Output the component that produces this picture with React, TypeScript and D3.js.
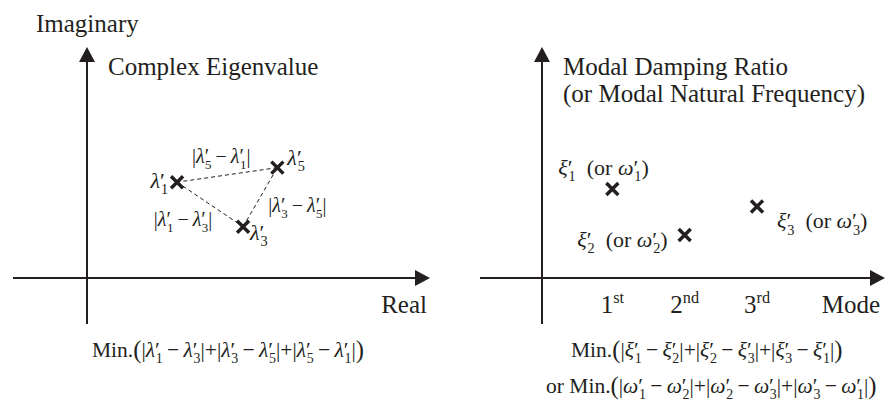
import React from "react";
import * as d3 from "d3";

// eigenvalues of the three chosen modes (arbitrary units)
const eigenIds = ["1", "3", "5"];
const eigenRe = [1.05, 1.82, 2.22];
const eigenIm = [1.12, 0.6, 1.29];

// modal damping ratio (or natural frequency) per mode
const modeNums = [1, 2, 3];
const modeSuffix = ["st", "nd", "rd"];
const modeIds = ["1", "2", "3"];
const dampingRatio = [0.385, 0.186, 0.31];

// pairs that get summed in the objective
const pairs = [
  [0, 1],
  [1, 2],
  [2, 0],
];

const W = 895;
const H = 401;
const INK = "#231f20";
const FONT = '"Liberation Serif", "Times New Roman", serif';
const THIN = "\u2009";

type Tok = { t: string; it?: boolean; sub?: boolean; sup?: boolean; dx?: number; big?: boolean };

const sym = (g: string, i: string): Tok[] => [
  { t: g, it: true },
  { t: "′" },
  { t: i, sub: true, dx: -4 },
];

const diff = (g: string, a: string, b: string): Tok[] => [
  { t: "|" },
  ...sym(g, a),
  { t: THIN + "−" + THIN },
  ...sym(g, b),
  { t: "|" },
];

const sumOf = (g: string, ids: string[]): Tok[] => {
  const out: Tok[] = [{ t: "Min." }, { t: "(", big: true }];
  pairs.forEach(([a, b], k) => {
    if (k > 0) out.push({ t: "+" });
    out.push(...diff(g, ids[a], ids[b]));
  });
  out.push({ t: ")", big: true });
  return out;
};

function MathText({ toks, x, y, size, anchor = "start" }: { toks: Tok[]; x: number; y: number; size: number; anchor?: string }) {
  let off = 0;
  const spans = toks.map((k, j) => {
    const target = k.sub ? size * 0.28 : k.sup ? -size * 0.4 : k.big ? size * 0.05 : 0;
    const dy = target - off;
    off = target;
    return (
      <tspan
        key={j}
        dy={dy !== 0 ? dy : undefined}
        dx={k.dx}
        fontStyle={k.it ? "italic" : undefined}
        fontSize={k.sub || k.sup ? size * 0.65 : k.big ? size * 1.15 : undefined}
      >
        {k.t}
      </tspan>
    );
  });
  return (
    <text x={x} y={y} fontSize={size} textAnchor={anchor} style={{ whiteSpace: "pre" }}>
      {spans}
    </text>
  );
}

function Cross({ x, y }: { x: number; y: number }) {
  const r = 6;
  return (
    <path
      d={`M${x - r},${y - r}L${x + r},${y + r}M${x - r},${y + r}L${x + r},${y - r}`}
      stroke={INK}
      strokeWidth={3.5}
    />
  );
}

function Axes({ ox, oy, x0, x1, y1, yBottom }: { ox: number; oy: number; x0: number; x1: number; y1: number; yBottom: number }) {
  const hl = 15;
  const hw = 8;
  return (
    <g>
      <line x1={x0} y1={oy} x2={x1 - hl} y2={oy} stroke={INK} strokeWidth={2} />
      <path d={`M${x1},${oy}L${x1 - hl},${oy - hw}L${x1 - hl},${oy + hw}Z`} fill={INK} />
      <line x1={ox} y1={yBottom} x2={ox} y2={y1 + hl} stroke={INK} strokeWidth={2} />
      <path d={`M${ox},${y1}L${ox - hw},${y1 + hl}L${ox + hw},${y1 + hl}Z`} fill={INK} />
    </g>
  );
}

// where the |a - b| labels sit relative to the midpoint of each dashed line
const pairLabelPos = [
  { dx: -27, dy: 22, anchor: "middle" },
  { dx: 8, dy: 15, anchor: "start" },
  { dx: -6, dy: -12, anchor: "middle" },
];

export default function App() {
  const xL = d3.scaleLinear().domain([0, 4]).range([87, 430]);
  const yL = d3.scaleLinear().domain([0, 2.7]).range([278, 47]);
  const xR = d3.scaleLinear().domain([0, 3]).range([540, 757]);
  const yR = d3.scaleLinear().domain([0, 1]).range([278, 47]);

  const eig = eigenIds.map((id, i) => ({ id, x: xL(eigenRe[i]), y: yL(eigenIm[i]) }));
  const modes = modeNums.map((m, i) => ({ m, id: modeIds[i], x: xR(m), y: yR(dampingRatio[i]) }));

  // label offsets for each eigenvalue / mode point
  const eigLabel = [
    { dx: -9, dy: 6, anchor: "end" },
    { dx: 7, dy: 13, anchor: "start" },
    { dx: 10, dy: -3, anchor: "start" },
  ];
  const modeLabel = [
    { dx: -54, dy: -14, anchor: "start" },
    { dx: -17, dy: 12, anchor: "end" },
    { dx: 20, dy: 22, anchor: "start" },
  ];

  const formulaSize = 21.5;

  return (
    <svg
      width={W}
      height={H}
      style={{ position: "absolute", left: 0, top: 0, background: "#fff" }}
      fontFamily={FONT}
      fill={INK}
    >
      {/* left panel: complex plane */}
      <Axes ox={xL(0)} oy={yL(0)} x0={13} x1={430} y1={47} yBottom={324} />
      <text x={36} y={32} fontSize={25}>Imaginary</text>
      <text x={108} y={75} fontSize={25}>Complex Eigenvalue</text>
      <text x={427} y={313} fontSize={25} textAnchor="end">Real</text>

      {pairs.map(([a, b], k) => (
        <line
          key={k}
          x1={eig[a].x}
          y1={eig[a].y}
          x2={eig[b].x}
          y2={eig[b].y}
          stroke={INK}
          strokeWidth={1}
          strokeDasharray="4,3"
        />
      ))}
      {pairs.map(([a, b], k) => (
        <MathText
          key={k}
          toks={diff("λ", eig[a].id, eig[b].id)}
          x={(eig[a].x + eig[b].x) / 2 + pairLabelPos[k].dx}
          y={(eig[a].y + eig[b].y) / 2 + pairLabelPos[k].dy}
          size={20}
          anchor={pairLabelPos[k].anchor}
        />
      ))}
      {eig.map((e, i) => (
        <g key={e.id}>
          <Cross x={e.x} y={e.y} />
          <MathText
            toks={sym("λ", e.id)}
            x={e.x + eigLabel[i].dx}
            y={e.y + eigLabel[i].dy}
            size={22}
            anchor={eigLabel[i].anchor}
          />
        </g>
      ))}
      <MathText toks={sumOf("λ", eigenIds)} x={92} y={357} size={formulaSize} />

      {/* right panel: modal property vs mode */}
      <Axes ox={542} oy={yR(0)} x0={480} x1={885} y1={47} yBottom={324} />
      <text x={563} y={75} fontSize={25}>Modal Damping Ratio</text>
      <text x={563} y={102} fontSize={25}>(or Modal Natural Frequency)</text>
      {modes.map((m, i) => (
        <MathText
          key={m.m}
          toks={[{ t: String(m.m) }, { t: modeSuffix[i], sup: true }]}
          x={m.x}
          y={313}
          size={25}
          anchor="middle"
        />
      ))}
      <text x={880} y={313} fontSize={25} textAnchor="end">Mode</text>

      {modes.map((m, i) => (
        <g key={m.id}>
          <Cross x={m.x} y={m.y} />
          <MathText
            toks={[...sym("ξ", m.id), { t: "  (or " }, ...sym("ω", m.id), { t: ")" }]}
            x={m.x + modeLabel[i].dx}
            y={m.y + modeLabel[i].dy}
            size={22}
            anchor={modeLabel[i].anchor}
          />
        </g>
      ))}
      <MathText toks={sumOf("ξ", modeIds)} x={571} y={357} size={formulaSize} />
      <MathText toks={[{ t: "or " }, ...sumOf("ω", modeIds)]} x={546} y={393} size={formulaSize} />
    </svg>
  );
}
